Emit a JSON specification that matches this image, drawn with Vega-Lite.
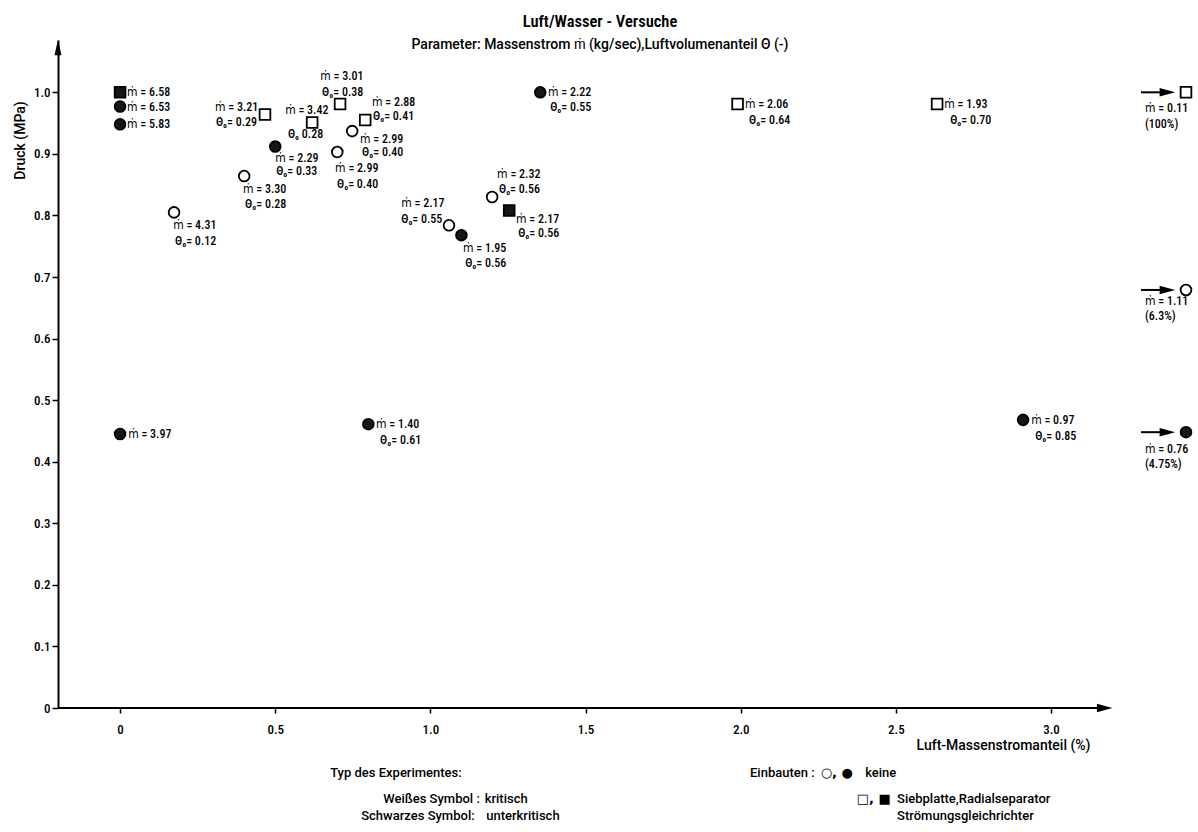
{
  "$schema": "https://vega.github.io/schema/vega-lite/v6.json",
  "width": 1128,
  "height": 668,
  "autosize": {"type": "none"},
  "padding": {"left": 58, "top": 40, "right": 12, "bottom": 124},
  "background": "white",
  "title": {
    "text": "Luft/Wasser - Versuche",
    "subtitle": "Parameter: Massenstrom ṁ (kg/sec),Luftvolumenanteil Θ (-)",
    "anchor": "middle",
    "frame": "group",
    "dx": -22,
    "offset": -12,
    "font": "Roboto Condensed, Roboto, sans-serif",
    "fontSize": 16.5,
    "fontWeight": 600,
    "subtitleFont": "Roboto, sans-serif",
    "subtitleFontSize": 14,
    "subtitleFontWeight": 500,
    "subtitlePadding": 7,
    "color": "black",
    "subtitleColor": "black"
  },
  "datasets": {
    "messpunkte": [
      {"anteil": 0, "druck": 1.0, "mdot": 6.58, "einbau": "Siebplatte", "typ": "unterkritisch"},
      {"anteil": 0, "druck": 0.977, "mdot": 6.53, "einbau": "keine", "typ": "unterkritisch"},
      {"anteil": 0, "druck": 0.948, "mdot": 5.83, "einbau": "keine", "typ": "unterkritisch"},
      {"anteil": 0, "druck": 0.445, "mdot": 3.97, "einbau": "keine", "typ": "unterkritisch"},
      {"anteil": 0.174, "druck": 0.805, "mdot": 4.31, "theta": 0.12, "einbau": "keine", "typ": "kritisch"},
      {"anteil": 0.4, "druck": 0.864, "mdot": 3.3, "theta": 0.28, "einbau": "keine", "typ": "kritisch"},
      {"anteil": 0.5, "druck": 0.912, "mdot": 2.29, "theta": 0.33, "einbau": "keine", "typ": "unterkritisch"},
      {"anteil": 0.467, "druck": 0.964, "mdot": 3.21, "theta": 0.29, "einbau": "Siebplatte", "typ": "kritisch"},
      {"anteil": 0.619, "druck": 0.951, "mdot": 3.42, "theta": 0.28, "einbau": "Siebplatte", "typ": "kritisch"},
      {"anteil": 0.709, "druck": 0.981, "mdot": 3.01, "theta": 0.38, "einbau": "Siebplatte", "typ": "kritisch"},
      {"anteil": 0.79, "druck": 0.955, "mdot": 2.88, "theta": 0.41, "einbau": "Siebplatte", "typ": "kritisch"},
      {"anteil": 0.748, "druck": 0.937, "mdot": 2.99, "theta": 0.4, "einbau": "keine", "typ": "kritisch"},
      {"anteil": 0.7, "druck": 0.903, "mdot": 2.99, "theta": 0.4, "einbau": "keine", "typ": "kritisch"},
      {"anteil": 1.06, "druck": 0.784, "mdot": 2.17, "theta": 0.55, "einbau": "keine", "typ": "kritisch"},
      {"anteil": 1.1, "druck": 0.768, "mdot": 1.95, "theta": 0.56, "einbau": "keine", "typ": "unterkritisch"},
      {"anteil": 1.199, "druck": 0.83, "mdot": 2.32, "theta": 0.56, "einbau": "keine", "typ": "kritisch"},
      {"anteil": 1.254, "druck": 0.808, "mdot": 2.17, "theta": 0.56, "einbau": "Siebplatte", "typ": "unterkritisch"},
      {"anteil": 1.354, "druck": 1.0, "mdot": 2.22, "theta": 0.55, "einbau": "keine", "typ": "unterkritisch"},
      {"anteil": 0.8, "druck": 0.461, "mdot": 1.4, "theta": 0.61, "einbau": "keine", "typ": "unterkritisch"},
      {"anteil": 1.99, "druck": 0.981, "mdot": 2.06, "theta": 0.64, "einbau": "Siebplatte", "typ": "kritisch"},
      {"anteil": 2.633, "druck": 0.981, "mdot": 1.93, "theta": 0.7, "einbau": "Siebplatte", "typ": "kritisch"},
      {"anteil": 2.91, "druck": 0.468, "mdot": 0.97, "theta": 0.85, "einbau": "keine", "typ": "unterkritisch"},
      {"anteil": 100, "druck": 1.0, "mdot": 0.11, "einbau": "Siebplatte", "typ": "kritisch"},
      {"anteil": 6.3, "druck": 0.679, "mdot": 1.11, "einbau": "keine", "typ": "kritisch"},
      {"anteil": 4.75, "druck": 0.448, "mdot": 0.76, "einbau": "keine", "typ": "unterkritisch"}
    ],
    "beschriftung": [
      {"x": 0.0226, "y": 1.0, "text": "ṁ = 6.58"},
      {"x": 0.0226, "y": 0.976, "text": "ṁ = 6.53"},
      {"x": 0.0226, "y": 0.948, "text": "ṁ = 5.83"},
      {"x": 0.306, "y": 0.976, "text": "ṁ = 3.21"},
      {"x": 0.309, "y": 0.951, "text": "Θ₀= 0.29"},
      {"x": 0.532, "y": 0.971, "text": "ṁ = 3.42"},
      {"x": 0.541, "y": 0.932, "text": "Θ₀ 0.28"},
      {"x": 0.645, "y": 1.026, "text": "ṁ = 3.01"},
      {"x": 0.651, "y": 1.0, "text": "Θ₀= 0.38"},
      {"x": 0.812, "y": 0.985, "text": "ṁ = 2.88"},
      {"x": 0.815, "y": 0.961, "text": "Θ₀= 0.41"},
      {"x": 0.773, "y": 0.925, "text": "ṁ = 2.99"},
      {"x": 0.78, "y": 0.903, "text": "Θ₀= 0.40"},
      {"x": 0.5, "y": 0.893, "text": "ṁ = 2.29"},
      {"x": 0.503, "y": 0.872, "text": "Θ₀= 0.33"},
      {"x": 0.693, "y": 0.877, "text": "ṁ = 2.99"},
      {"x": 0.699, "y": 0.851, "text": "Θ₀= 0.40"},
      {"x": 0.396, "y": 0.843, "text": "ṁ = 3.30"},
      {"x": 0.403, "y": 0.818, "text": "Θ₀= 0.28"},
      {"x": 0.171, "y": 0.784, "text": "ṁ = 4.31"},
      {"x": 0.177, "y": 0.758, "text": "Θ₀= 0.12"},
      {"x": 0.906, "y": 0.821, "text": "ṁ = 2.17"},
      {"x": 0.906, "y": 0.794, "text": "Θ₀= 0.55"},
      {"x": 1.105, "y": 0.747, "text": "ṁ = 1.95"},
      {"x": 1.112, "y": 0.722, "text": "Θ₀= 0.56"},
      {"x": 1.215, "y": 0.867, "text": "ṁ = 2.32"},
      {"x": 1.221, "y": 0.843, "text": "Θ₀= 0.56"},
      {"x": 1.276, "y": 0.795, "text": "ṁ = 2.17"},
      {"x": 1.283, "y": 0.771, "text": "Θ₀= 0.56"},
      {"x": 1.379, "y": 1.0, "text": "ṁ = 2.22"},
      {"x": 1.386, "y": 0.976, "text": "Θ₀= 0.55"},
      {"x": 0.026, "y": 0.445, "text": "ṁ = 3.97"},
      {"x": 0.825, "y": 0.461, "text": "ṁ = 1.40"},
      {"x": 0.838, "y": 0.435, "text": "Θ₀= 0.61"},
      {"x": 2.014, "y": 0.981, "text": "ṁ = 2.06"},
      {"x": 2.027, "y": 0.955, "text": "Θ₀= 0.64"},
      {"x": 2.656, "y": 0.981, "text": "ṁ = 1.93"},
      {"x": 2.675, "y": 0.955, "text": "Θ₀= 0.70"},
      {"x": 2.936, "y": 0.468, "text": "ṁ = 0.97"},
      {"x": 2.949, "y": 0.442, "text": "Θ₀= 0.85"},
      {"x": 3.303, "y": 0.974, "text": "ṁ = 0.11"},
      {"x": 3.303, "y": 0.948, "text": "(100%)"},
      {"x": 3.303, "y": 0.661, "text": "ṁ = 1.11"},
      {"x": 3.303, "y": 0.636, "text": "(6.3%)"},
      {"x": 3.303, "y": 0.42, "text": "ṁ = 0.76"},
      {"x": 3.303, "y": 0.396, "text": "(4.75%)"}
    ],
    "fusszeile": [
      {"x": 0.677, "y": -0.1055, "text": "Typ des Experimentes:"},
      {"x": 0.848, "y": -0.148, "text": "Weißes Symbol :"},
      {"x": 1.175, "y": -0.148, "text": "kritisch"},
      {"x": 0.777, "y": -0.176, "text": "Schwarzes Symbol:"},
      {"x": 1.18, "y": -0.176, "text": "unterkritisch"},
      {"x": 2.03, "y": -0.1055, "text": "Einbauten :"},
      {"x": 2.401, "y": -0.1055, "text": "keine"},
      {"x": 2.504, "y": -0.148, "text": "Siebplatte,Radialseparator"},
      {"x": 2.504, "y": -0.176, "text": "Strömungsgleichrichter"}
    ],
    "symbolzeichen": [
      {"x": 2.258, "y": -0.1055, "text": "○, ●"},
      {"x": 2.374, "y": -0.148, "text": "□, ■"}
    ],
    "schaefte": [
      {"von": -0.2, "bis": 3.17, "druck": 0},
      {"von": 3.29, "bis": 3.36, "druck": 1.0},
      {"von": 3.29, "bis": 3.36, "druck": 0.679},
      {"von": 3.29, "bis": 3.36, "druck": 0.448}
    ],
    "spitzen": [
      {"anteil": 3.173, "druck": 0, "richtung": "rechts"},
      {"anteil": 3.375, "druck": 1.0, "richtung": "rechts"},
      {"anteil": 3.375, "druck": 0.679, "richtung": "rechts"},
      {"anteil": 3.375, "druck": 0.448, "richtung": "rechts"},
      {"anteil": -0.2, "druck": 1.073, "richtung": "oben"}
    ]
  },
  "resolve": {"scale": {"shape": "independent"}},
  "layer": [
    {
      "data": {"name": "schaefte"},
      "mark": {"type": "rule", "color": "black", "strokeWidth": 2},
      "encoding": {
        "x": {"field": "von", "type": "quantitative"},
        "x2": {"field": "bis"},
        "y": {"field": "druck", "type": "quantitative"}
      }
    },
    {
      "data": {"name": "spitzen"},
      "mark": {"type": "point", "filled": true, "color": "black", "opacity": 1, "size": 240},
      "encoding": {
        "x": {"field": "anteil", "type": "quantitative"},
        "y": {"field": "druck", "type": "quantitative"},
        "shape": {
          "field": "richtung",
          "type": "nominal",
          "scale": {"domain": ["rechts", "oben"], "range": ["M-1,-0.55L1,0L-1,0.55Z", "M-0.45,1L0,-1L0.45,1Z"]},
          "legend": null
        }
      }
    },
    {
      "data": {"name": "messpunkte"},
      "mark": {"type": "point", "filled": true, "stroke": "black", "strokeWidth": 1.8, "opacity": 1, "size": 115},
      "encoding": {
        "x": {
          "field": "anteil",
          "type": "quantitative",
          "scale": {"domain": [-0.2, 3.435], "nice": false, "zero": false, "clamp": true},
          "axis": {
            "values": [0, 0.5, 1, 1.5, 2, 2.5, 3],
            "labelExpr": "datum.value == 0 ? '0' : format(datum.value, '.1f')",
            "domain": false,
            "grid": false,
            "ticks": true,
            "tickSize": 5,
            "tickWidth": 1.5,
            "tickColor": "black",
            "labelPadding": 10,
            "labelFontSize": 13,
            "labelFontWeight": 500,
            "labelColor": "black",
            "title": "Luft-Massenstromanteil (%)",
            "titleFont": "Roboto, sans-serif",
            "titleX": 1032,
            "titleY": 37,
            "titleAlign": "right",
            "titleBaseline": "middle",
            "titleFontSize": 14,
            "titleFontWeight": 500,
            "titleColor": "black"
          }
        },
        "y": {
          "field": "druck",
          "type": "quantitative",
          "scale": {"domain": [0, 1.085], "nice": false, "zero": false},
          "axis": {
            "values": [0, 0.1, 0.2, 0.3, 0.4, 0.5, 0.6, 0.7, 0.8, 0.9, 1.0],
            "labelExpr": "datum.value == 0 ? '0' : format(datum.value, '.1f')",
            "domain": true,
            "domainColor": "black",
            "domainWidth": 2,
            "grid": false,
            "tickSize": 6,
            "tickWidth": 1.5,
            "tickColor": "black",
            "labelPadding": 2,
            "labelFontSize": 13,
            "labelFontWeight": 500,
            "labelColor": "black",
            "title": "Druck (MPa)",
            "titleFont": "Roboto, sans-serif",
            "titleX": -38,
            "titleY": 100,
            "titleAngle": -90,
            "titleAlign": "center",
            "titleBaseline": "middle",
            "titleFontSize": 14,
            "titleFontWeight": 500,
            "titleColor": "black"
          }
        },
        "shape": {
          "field": "einbau",
          "type": "nominal",
          "scale": {"domain": ["keine", "Siebplatte"], "range": ["circle", "square"]},
          "legend": null
        },
        "fill": {
          "field": "typ",
          "type": "nominal",
          "scale": {"domain": ["kritisch", "unterkritisch"], "range": ["white", "#161616"]},
          "legend": null
        }
      }
    },
    {
      "data": {"name": "beschriftung"},
      "mark": {"type": "text", "align": "left", "baseline": "middle", "fontSize": 12, "fontWeight": 500, "color": "black"},
      "encoding": {
        "x": {"field": "x", "type": "quantitative"},
        "y": {"field": "y", "type": "quantitative"},
        "text": {"field": "text", "type": "nominal"}
      }
    },
    {
      "data": {"name": "fusszeile"},
      "mark": {"type": "text", "align": "left", "baseline": "middle", "font": "Roboto, sans-serif", "fontSize": 13, "fontWeight": 500, "color": "black"},
      "encoding": {
        "x": {"field": "x", "type": "quantitative"},
        "y": {"field": "y", "type": "quantitative"},
        "text": {"field": "text", "type": "nominal"}
      }
    },
    {
      "data": {"name": "symbolzeichen"},
      "mark": {"type": "text", "align": "left", "baseline": "middle", "font": "DejaVu Sans, sans-serif", "fontSize": 13, "fontWeight": "bold", "color": "black"},
      "encoding": {
        "x": {"field": "x", "type": "quantitative"},
        "y": {"field": "y", "type": "quantitative"},
        "text": {"field": "text", "type": "nominal"}
      }
    }
  ],
  "config": {
    "font": "Roboto Condensed, Liberation Sans Narrow, DejaVu Sans Condensed, Roboto, sans-serif",
    "view": {"stroke": null}
  }
}
